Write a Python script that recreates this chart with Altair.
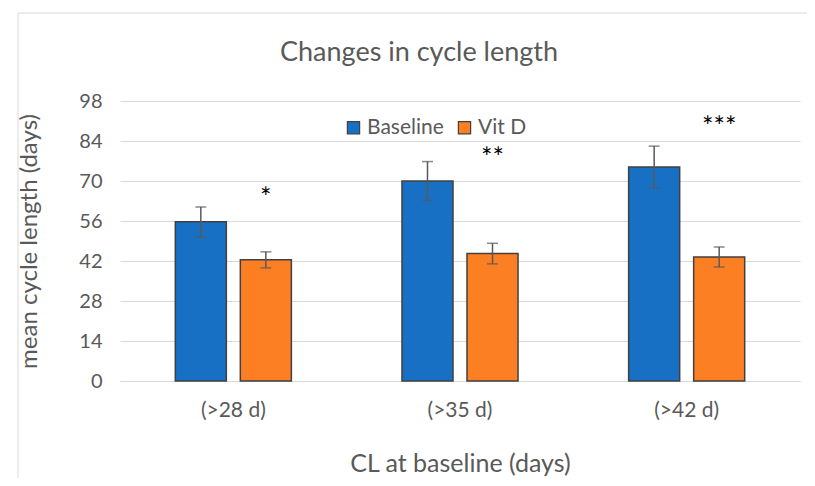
import altair as alt
import pandas as pd

categories = ["(>28 d)", "(>35 d)", "(>42 d)"]
series = ["Baseline", "Vit D"]
baseline = [55.7, 70.0, 74.9]
vitd = [42.4, 44.6, 43.4]
baseline_err = [5.2, 6.8, 7.3]
vitd_err = [2.8, 3.6, 3.5]
stars = ["*", "**", "***"]
star_y = [66, 80, 91]
y_ticks = [0, 14, 28, 42, 56, 70, 84, 98]
colors = ["#1870C5", "#FD7F23"]

rows = []
for i, c in enumerate(categories):
    rows.append({"cat": c, "series": "Baseline", "v": baseline[i],
                 "lo": baseline[i] - baseline_err[i], "hi": baseline[i] + baseline_err[i]})
    rows.append({"cat": c, "series": "Vit D", "v": vitd[i],
                 "lo": vitd[i] - vitd_err[i], "hi": vitd[i] + vitd_err[i]})
df = pd.DataFrame(rows)
sdf = pd.DataFrame({"cat": categories, "series": ["Vit D"] * 3, "s": stars, "y": star_y})

FONT = "Lato"
GRAY = "#595959"

x = alt.X("cat:N", sort=categories,
          scale=alt.Scale(paddingInner=0.488, paddingOuter=0.244),
          axis=alt.Axis(title="CL at baseline (days)", labelAngle=0, ticks=False,
                        labelPadding=18, labelFontSize=21, labelColor=GRAY, labelFont=FONT,
                        titleFontSize=25, titleColor=GRAY, titleFont=FONT, titleFontWeight="normal",
                        titleY=82, titleBaseline="middle",
                        domainColor="#d9d9d9", domainWidth=1, grid=False))
xo = alt.XOffset("series:N", sort=series,
                 scale=alt.Scale(paddingInner=0.215, paddingOuter=0))
y = alt.Y("v:Q", scale=alt.Scale(domain=[0, 98], nice=False),
          axis=alt.Axis(title="mean cycle length (days)", values=y_ticks, tickCount=20, ticks=False,
                        domain=False, gridColor="#d9d9d9", gridWidth=1, labelOverlap=False,
                        labelPadding=18, labelFontSize=20, labelColor=GRAY, labelFont=FONT,
                        titleFontSize=24, titleColor=GRAY, titleFont=FONT, titleFontWeight="normal",
                        titleX=-91, titleY=140, titleAngle=-90, titleAlign="center",
                        titleBaseline="middle"))

color = alt.Color("series:N", sort=series,
                  scale=alt.Scale(domain=series, range=colors),
                  legend=alt.Legend(title=None, orient="none", legendX=223, legendY=16,
                                    direction="horizontal", symbolType="square", symbolSize=150,
                                    symbolStrokeColor="#404040", symbolStrokeWidth=1.2,
                                    labelFontSize=21, labelColor=GRAY, labelFont=FONT,
                                    columnPadding=10, labelOffset=3))

bars = alt.Chart(df).mark_bar(stroke="#404040", strokeWidth=1.5).encode(
    x=x, xOffset=xo, y=y, color=color)

err = alt.Chart(df).mark_rule(color=GRAY, strokeWidth=1.5).encode(
    x=alt.X("cat:N", sort=categories), xOffset=alt.XOffset("series:N", sort=series),
    y="lo:Q", y2="hi:Q")
cap_hi = alt.Chart(df).mark_tick(color=GRAY, thickness=1.5, size=11, orient="horizontal").encode(
    x=alt.X("cat:N", sort=categories), xOffset=alt.XOffset("series:N", sort=series),
    y="hi:Q")
cap_lo = alt.Chart(df).mark_tick(color=GRAY, thickness=1.5, size=11, orient="horizontal").encode(
    x=alt.X("cat:N", sort=categories), xOffset=alt.XOffset("series:N", sort=series),
    y="lo:Q")

star_text = alt.Chart(sdf).mark_text(fontSize=27, font=FONT, color="#000000",
                                     baseline="middle", dy=7).encode(
    x=alt.X("cat:N", sort=categories), xOffset=alt.XOffset("series:N", sort=series),
    y="y:Q", text="s:N")

frame = alt.Chart(pd.DataFrame({"f": [0]})).mark_rect(
    fill=None, stroke="#d9d9d9", strokeWidth=1).encode(
    x=alt.value(-102), x2=alt.value(692), y=alt.value(-88), y2=alt.value(420))

chart = alt.layer(frame, bars, err, cap_hi, cap_lo, star_text).properties(
    width=680, height=280,
    title=alt.TitleParams("Changes in cycle length", fontSize=27, font=FONT, color=GRAY,
                          fontWeight="normal", offset=-54, anchor="middle", dx=-41),
    autosize=alt.AutoSizeParams(type="none"),
    padding={"left": 112, "top": 93, "right": 7, "bottom": 97},
    background="white",
).configure_view(stroke=None)

chart.save("out.html", embed_options={"renderer": "svg", "actions": False})
